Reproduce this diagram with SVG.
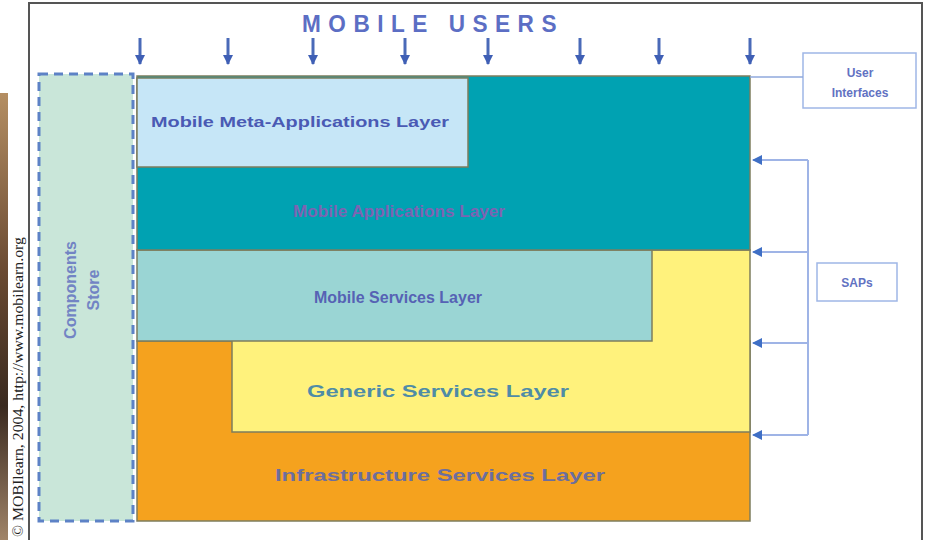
<svg xmlns="http://www.w3.org/2000/svg" width="930" height="540" viewBox="0 0 930 540">
<defs>
<linearGradient id="brown" x1="0" y1="0" x2="0" y2="1">
<stop offset="0" stop-color="#b48e62"/>
<stop offset="0.4" stop-color="#6a4a32"/>
<stop offset="0.7" stop-color="#3a2a20"/>
<stop offset="1" stop-color="#a08468"/>
</linearGradient>
<marker id="ah" viewBox="0 0 10 10" refX="9" refY="5" markerWidth="3.5" markerHeight="3.5" orient="auto" markerUnits="strokeWidth">
<path d="M0,0 L10,5 L0,10 z" fill="#3f5fb5"/>
</marker>
<marker id="ahl" viewBox="0 0 10 10" refX="9" refY="5" markerWidth="5" markerHeight="5" orient="auto" markerUnits="strokeWidth">
<path d="M0,0 L10,5 L0,10 z" fill="#3f6fc5"/>
</marker>
</defs>
<style>
.lay{stroke:#7d7d5e;stroke-width:1.5}
.t{font-family:"Liberation Sans",Arial,sans-serif;font-weight:bold;text-anchor:middle}
.down{stroke:#4a6ab8;stroke-width:3;fill:none}
.sap{stroke:#9fb4e6;stroke-width:2;fill:none}
.box{fill:#ffffff;stroke:#9fb6e6;stroke-width:1.5}
</style>
<rect width="930" height="540" fill="#ffffff"/>
<rect x="0" y="93" width="8" height="447" fill="url(#brown)"/>
<path d="M29,541 L29,3 L922,3 L922,541" fill="none" stroke="#555555" stroke-width="2"/>
<text transform="translate(23,537) rotate(-90)" font-family="Liberation Serif, serif" font-size="15" fill="#222222" textLength="300" lengthAdjust="spacingAndGlyphs">© MOBIlearn, 2004, http://www.mobilearn.org</text>

<text x="433" y="32" class="t" font-size="24" fill="#5c6ec4" letter-spacing="8" textLength="262" lengthAdjust="spacingAndGlyphs">MOBILE USERS</text>

<g id="components-store">
<rect x="39" y="74" width="94" height="447" fill="#c9e6d9" stroke="#5d82c6" stroke-width="3" stroke-dasharray="9,6"/>
<text transform="translate(76,290) rotate(-90)" class="t" font-size="16" fill="#7284c4">Components</text>
<text transform="translate(99,290) rotate(-90)" class="t" font-size="16" fill="#7284c4">Store</text>
</g>

<g id="infrastructure-services-layer">
<rect x="137" y="341" width="613" height="180" fill="#f5a21e" class="lay"/>
<text x="440" y="481" class="t" font-size="17" fill="#6c6e9e" textLength="330" lengthAdjust="spacingAndGlyphs">Infrastructure Services Layer</text>
</g>
<g id="generic-services-layer">
<rect x="232" y="250" width="518" height="182" fill="#fff27c" class="lay"/>
<text x="438" y="397" class="t" font-size="17" fill="#4f8ca6" textLength="262" lengthAdjust="spacingAndGlyphs">Generic Services Layer</text>
</g>
<g id="mobile-services-layer">
<rect x="137" y="250" width="515" height="91" fill="#9ad5d4" class="lay"/>
<text x="398" y="303" class="t" font-size="16" fill="#5662b4" textLength="168" lengthAdjust="spacingAndGlyphs">Mobile Services Layer</text>
</g>
<g id="mobile-applications-layer">
<rect x="137" y="76" width="613" height="174" fill="#00a2b2" class="lay"/>
<text x="399" y="217" class="t" font-size="17" fill="#7c64b2" textLength="212" lengthAdjust="spacingAndGlyphs">Mobile Applications Layer</text>
</g>
<g id="mobile-meta-applications-layer">
<rect x="137" y="78" width="331" height="89" fill="#c6e6f7" class="lay"/>
<text x="300" y="127" class="t" font-size="15" fill="#4a5ab4" textLength="298" lengthAdjust="spacingAndGlyphs">Mobile Meta-Applications Layer</text>
</g>

<g id="user-interfaces">
<rect x="803" y="53" width="113" height="55" class="box"/>
<text x="860" y="77" class="t" font-size="12" fill="#6272c2">User</text>
<text x="860" y="97" class="t" font-size="12" fill="#6272c2">Interfaces</text>
</g>
<g id="saps">
<rect x="817" y="263" width="80" height="38" class="box"/>
<text x="857" y="287" class="t" font-size="12" fill="#6272c2">SAPs</text>
</g>

<g id="connectors">
<line x1="140" y1="38" x2="140" y2="64" class="down" marker-end="url(#ah)"/>
<line x1="228" y1="38" x2="228" y2="64" class="down" marker-end="url(#ah)"/>
<line x1="313" y1="38" x2="313" y2="64" class="down" marker-end="url(#ah)"/>
<line x1="405" y1="38" x2="405" y2="64" class="down" marker-end="url(#ah)"/>
<line x1="488" y1="38" x2="488" y2="64" class="down" marker-end="url(#ah)"/>
<line x1="580" y1="38" x2="580" y2="64" class="down" marker-end="url(#ah)"/>
<line x1="659" y1="38" x2="659" y2="64" class="down" marker-end="url(#ah)"/>
<line x1="750" y1="38" x2="750" y2="64" class="down" marker-end="url(#ah)"/>
<line x1="750" y1="77" x2="803" y2="77" stroke="#8fa8dc" stroke-width="1.5"/>
<path d="M808,160 L808,435" class="sap"/>
<line x1="808" y1="160" x2="753" y2="160" class="sap" marker-end="url(#ahl)"/>
<line x1="808" y1="252" x2="753" y2="252" class="sap" marker-end="url(#ahl)"/>
<line x1="808" y1="343" x2="753" y2="343" class="sap" marker-end="url(#ahl)"/>
<line x1="808" y1="435" x2="753" y2="435" class="sap" marker-end="url(#ahl)"/>
</g>
</svg>
